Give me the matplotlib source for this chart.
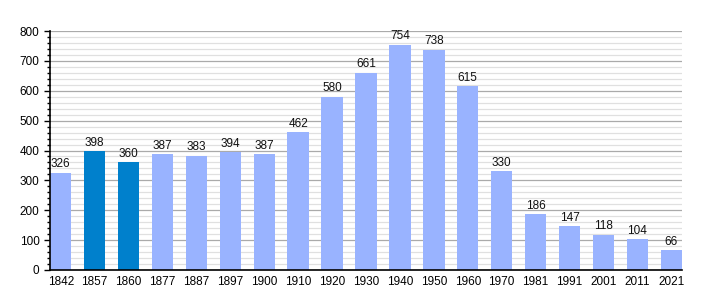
import matplotlib
matplotlib.use("Agg")
import matplotlib.pyplot as plt
from matplotlib.ticker import MultipleLocator

years = ["1842", "1857", "1860", "1877", "1887", "1897", "1900", "1910", "1920",
         "1930", "1940", "1950", "1960", "1970", "1981", "1991", "2001", "2011", "2021"]
population = [326, 398, 360, 387, 383, 394, 387, 462, 580, 661, 754, 738, 615,
              330, 186, 147, 118, 104, 66]
highlight = ["1857", "1860"]

light = "#99b3ff"
dark = "#0080cc"
colors = [dark if y in highlight else light for y in years]

plt.rcParams["font.family"] = ["Liberation Sans", "DejaVu Sans"]

fig = plt.figure(figsize=(7.1, 3.0), dpi=100)
ax = fig.add_axes([50 / 710, 30 / 300, 632 / 710, 239 / 300])

w = 0.63
x = range(len(years))
ax.bar(x, population, width=w, color=colors, zorder=3)
for xi, v in zip(x, population):
    ax.text(xi, v + 8, str(v), ha="center", va="bottom", fontsize=8.5, color="#111111")

ax.set_xlim(-w / 2, len(years) - 1 + w / 2)
ax.set_ylim(0, 800)
ax.set_xticks(list(x))
ax.set_xticklabels(years, fontsize=8.5)
ax.yaxis.set_major_locator(MultipleLocator(100))
ax.yaxis.set_minor_locator(MultipleLocator(20))
ax.tick_params(axis="y", labelsize=8.5, length=4, width=1)
ax.tick_params(axis="y", which="minor", length=2, width=1)
ax.tick_params(axis="x", length=0, pad=4)
ax.grid(axis="y", which="major", color="#aaaaaa", linewidth=0.9, zorder=0)
ax.grid(axis="y", which="minor", color="#e0e0e0", linewidth=0.9, zorder=0)

for s in ["top", "right"]:
    ax.spines[s].set_visible(False)
for s in ["left", "bottom"]:
    ax.spines[s].set_linewidth(1.2)
    ax.spines[s].set_color("black")
    ax.spines[s].set_zorder(5)

fig.savefig("out.png", dpi=100)
